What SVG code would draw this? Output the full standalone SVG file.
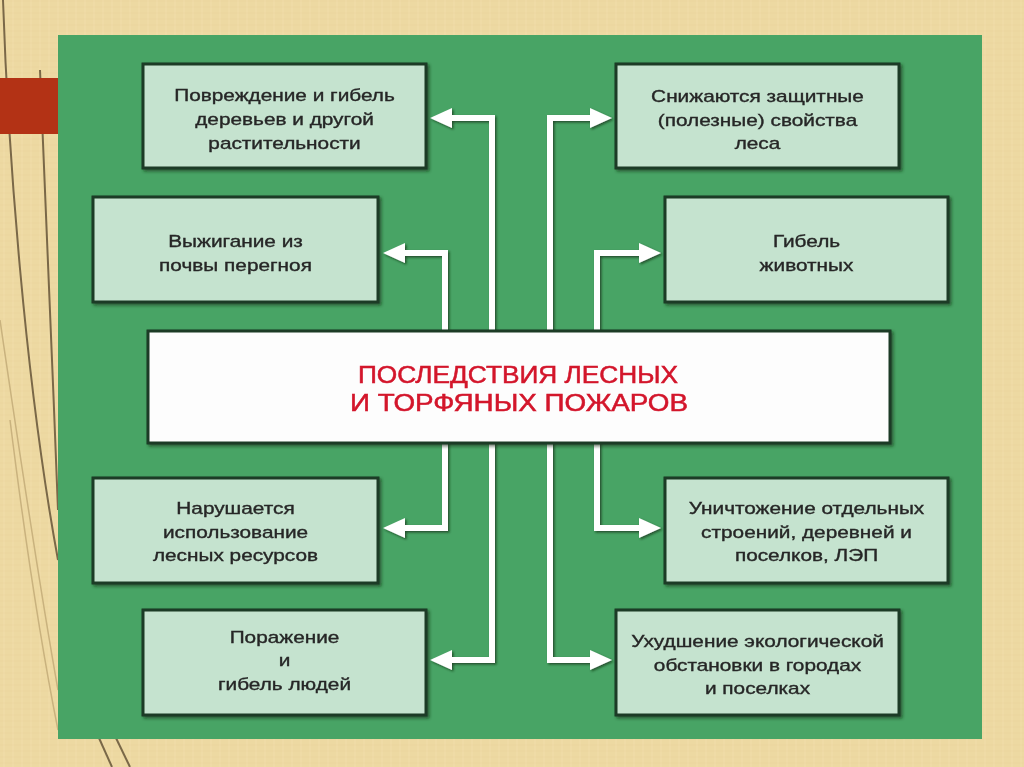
<svg xmlns="http://www.w3.org/2000/svg" width="1024" height="767" viewBox="0 0 1024 767">
<defs>
<pattern id="tex" width="9" height="6" patternUnits="userSpaceOnUse">
<rect width="9" height="6" fill="#EDD9A2"/>
<path d="M0 1H9" stroke="#E4CC90" stroke-width="0.7" opacity="0.45"/>
<path d="M4 0V6" stroke="#F4E4B8" stroke-width="0.7" opacity="0.45"/>
</pattern>
<filter id="sh" x="-5%" y="-5%" width="115%" height="120%">
<feDropShadow dx="2" dy="2" stdDeviation="1.5" flood-color="#0b2a14" flood-opacity="0.6"/>
</filter>
<filter id="ash" x="-10%" y="-10%" width="130%" height="130%">
<feDropShadow dx="1.5" dy="1.5" stdDeviation="1" flood-color="#0b2a14" flood-opacity="0.7"/>
</filter>
<marker id="ah" markerUnits="userSpaceOnUse" markerWidth="22" markerHeight="20" viewBox="0 0 22 20" refX="1" refY="10" orient="auto">
<path d="M0 0 L22 10 L0 20 Z" fill="#FFFFFF"/>
</marker>
</defs>
<style>
.box{fill:#C5E3CF;stroke:#1B3A25;stroke-width:3}
.t{font-family:"Liberation Sans",Arial,sans-serif;font-size:16px;fill:#262626;stroke:#262626;stroke-width:0.35;text-anchor:middle}
.title{font-family:"Liberation Sans",Arial,sans-serif;font-size:23px;fill:#D3142B;stroke:#D3142B;stroke-width:0.5;text-anchor:middle}
.con{fill:none;stroke:#FFFFFF;stroke-width:6;stroke-linejoin:miter}
.deco{fill:none;stroke:#7A6848;stroke-width:2}
.faint{fill:none;stroke:#C9B27E;stroke-width:1.5}
</style>
<rect width="1024" height="767" fill="url(#tex)"/>
<g id="decor">
<path class="deco" d="M3 0 C8 150, 25 380, 58 560"/>
<path class="deco" d="M40 70 C46 200, 52 360, 58 510"/>
<path class="faint" d="M0 320 C22 470, 42 600, 58 690"/>
<path class="faint" d="M10 420 C25 540, 40 640, 58 730"/>
<path class="deco" stroke-width="3" d="M99 738 L112 767"/>
<path class="deco" stroke-width="3" d="M116 738 L130 767"/>
<rect x="0" y="78" width="58" height="56" fill="#B33215"/>
</g>
<rect id="panel" x="58" y="35" width="924" height="704" fill="#48A465"/>
<g id="connectors" filter="url(#ash)">
<path class="con" marker-end="url(#ah)" d="M492 340 V118 H451"/>
<path class="con" marker-end="url(#ah)" d="M445 340 V253 H404"/>
<path class="con" marker-end="url(#ah)" d="M550 340 V118 H591"/>
<path class="con" marker-end="url(#ah)" d="M597 340 V253 H640"/>
<path class="con" marker-end="url(#ah)" d="M445 435 V528 H404"/>
<path class="con" marker-end="url(#ah)" d="M492 435 V660 H451"/>
<path class="con" marker-end="url(#ah)" d="M550 435 V660 H591"/>
<path class="con" marker-end="url(#ah)" d="M597 435 V528 H640"/>
</g>
<g id="n1" filter="url(#sh)">
<rect class="box" x="143" y="64" width="283" height="104"/>
<text class="t" transform="translate(284.5,0) scale(1.3,1)"><tspan x="0" y="101">Повреждение и гибель</tspan><tspan x="0" y="125">деревьев и другой</tspan><tspan x="0" y="149">растительности</tspan></text>
</g>
<g id="n2" filter="url(#sh)">
<rect class="box" x="93" y="197" width="285" height="105"/>
<text class="t" transform="translate(235.5,0) scale(1.3,1)"><tspan x="0" y="247">Выжигание из</tspan><tspan x="0" y="271">почвы перегноя</tspan></text>
</g>
<g id="n3" filter="url(#sh)">
<rect class="box" x="616" y="64" width="283" height="104"/>
<text class="t" transform="translate(757.5,0) scale(1.3,1)"><tspan x="0" y="102">Снижаются защитные</tspan><tspan x="0" y="126">(полезные) свойства</tspan><tspan x="0" y="149">леса</tspan></text>
</g>
<g id="n4" filter="url(#sh)">
<rect class="box" x="665" y="197" width="283" height="105"/>
<text class="t" transform="translate(806.5,0) scale(1.3,1)"><tspan x="0" y="247">Гибель</tspan><tspan x="0" y="271">животных</tspan></text>
</g>
<g id="center" filter="url(#sh)">
<rect x="148" y="331" width="742" height="112" fill="#FDFDFD" stroke="#1B3A25" stroke-width="3"/>
<text class="title" x="518" y="383" textLength="320" lengthAdjust="spacingAndGlyphs">ПОСЛЕДСТВИЯ ЛЕСНЫХ</text>
<text class="title" x="519" y="411" textLength="338" lengthAdjust="spacingAndGlyphs">И ТОРФЯНЫХ ПОЖАРОВ</text>
</g>
<g id="n5" filter="url(#sh)">
<rect class="box" x="93" y="478" width="285" height="105"/>
<text class="t" transform="translate(235.5,0) scale(1.3,1)"><tspan x="0" y="514">Нарушается</tspan><tspan x="0" y="538">использование</tspan><tspan x="0" y="561">лесных ресурсов</tspan></text>
</g>
<g id="n6" filter="url(#sh)">
<rect class="box" x="665" y="478" width="283" height="105"/>
<text class="t" transform="translate(806.5,0) scale(1.3,1)"><tspan x="0" y="514">Уничтожение отдельных</tspan><tspan x="0" y="538">строений, деревней и</tspan><tspan x="0" y="561">поселков, ЛЭП</tspan></text>
</g>
<g id="n7" filter="url(#sh)">
<rect class="box" x="143" y="610" width="283" height="105"/>
<text class="t" transform="translate(284.5,0) scale(1.3,1)"><tspan x="0" y="643">Поражение</tspan><tspan x="0" y="666">и</tspan><tspan x="0" y="690">гибель людей</tspan></text>
</g>
<g id="n8" filter="url(#sh)">
<rect class="box" x="616" y="610" width="283" height="105"/>
<text class="t" transform="translate(757.5,0) scale(1.3,1)"><tspan x="0" y="647">Ухудшение экологической</tspan><tspan x="0" y="671">обстановки в городах</tspan><tspan x="0" y="694">и поселках</tspan></text>
</g>
</svg>
